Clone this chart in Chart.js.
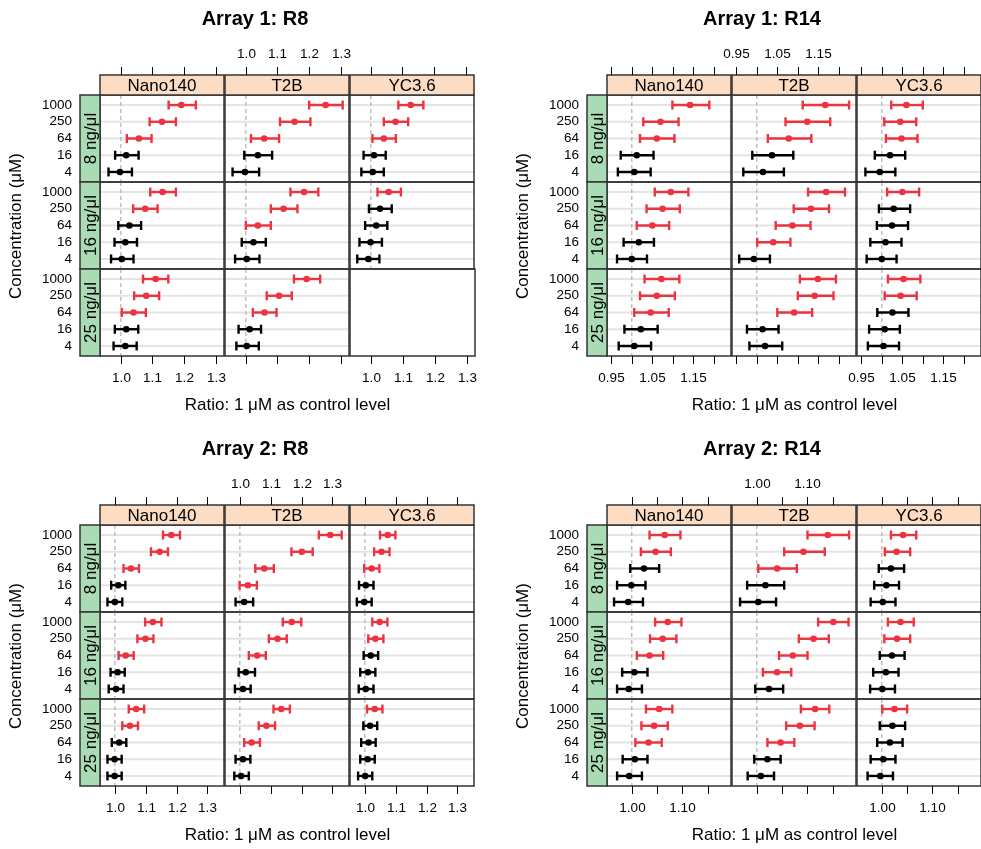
<!DOCTYPE html>
<html>
<head>
<meta charset="utf-8">
<script src="https://cdn.jsdelivr.net/npm/chart.js@4.4.1/dist/chart.umd.min.js"></script>
<style>
    html, body { margin: 0; padding: 0; background: #fff; overflow: hidden; }
    #page { position: relative; width: 981px; height: 849px; overflow: hidden;
            font-family: "Liberation Sans", Arial, sans-serif; color: #000; }
    #page canvas { position: absolute; }
    .lbl { position: absolute; white-space: nowrap; transform: translate(-50%, -50%); line-height: 1; }
    .rot { transform: translate(-50%, -50%) rotate(-90deg); }
</style>
</head>
<body>
<div id="page"></div>
<script>
// Concentrations, top to bottom in every panel
const conc = ['1000', '250', '64', '16', '4'];
const sensors = ['Nano140', 'T2B', 'YC3.6'];
const doses = ['8 ng/μl', '16 ng/μl', '25 ng/μl'];
const titles = ['Array 1: R8', 'Array 1: R14', 'Array 2: R8', 'Array 2: R14'];

// x axis limits, tick values and tick labels per figure
const xLimits = [[0.9341, 1.326], [0.9395, 1.2419], [0.9518, 1.3537], [0.9511, 1.1957]];
const xTicks = [
    [1.0, 1.1, 1.2, 1.3],
    [0.95, 1.00, 1.05, 1.10, 1.15, 1.20],
    [1.0, 1.1, 1.2, 1.3],
    [1.00, 1.05, 1.10, 1.15]
];
const xTickLabels = [
    ['1.0', '1.1', '1.2', '1.3'],
    ['0.95', '', '1.05', '', '1.15', ''],
    ['1.0', '1.1', '1.2', '1.3'],
    ['1.00', '', '1.10', '']
];

// [ratio, lower, upper, significant] for 1000, 250, 64, 16, 4 µM
// rows = dose, columns = sensor
const a1R8 = [
    [
        [[1.191, 1.151, 1.237, 1], [1.130, 1.091, 1.174, 1], [1.057, 1.019, 1.097, 1], [1.017, 0.982, 1.056, 0], [0.997, 0.961, 1.035, 0]],
        [[1.252, 1.200, 1.306, 1], [1.154, 1.108, 1.204, 1], [1.058, 1.016, 1.105, 1], [1.038, 0.995, 1.083, 0], [0.997, 0.958, 1.042, 0]],
        [[1.126, 1.087, 1.166, 1], [1.078, 1.041, 1.118, 1], [1.041, 1.005, 1.079, 1], [1.010, 0.977, 1.047, 0], [1.006, 0.970, 1.041, 0]]
    ],
    [
        [[1.132, 1.093, 1.174, 1], [1.077, 1.039, 1.116, 1], [1.027, 0.992, 1.064, 0], [1.014, 0.980, 1.051, 0], [1.003, 0.969, 1.040, 0]],
        [[1.184, 1.141, 1.229, 1], [1.119, 1.079, 1.163, 1], [1.038, 1.000, 1.079, 1], [1.024, 0.987, 1.063, 0], [1.003, 0.966, 1.043, 0]],
        [[1.056, 1.021, 1.095, 1], [1.029, 0.994, 1.066, 0], [1.017, 0.982, 1.052, 0], [0.999, 0.964, 1.035, 0], [0.992, 0.957, 1.027, 0]]
    ],
    [
        [[1.110, 1.070, 1.150, 1], [1.080, 1.042, 1.121, 1], [1.040, 1.003, 1.079, 1], [1.017, 0.981, 1.055, 0], [1.014, 0.977, 1.050, 0]],
        [[1.192, 1.152, 1.235, 1], [1.105, 1.066, 1.145, 1], [1.059, 1.022, 1.097, 1], [1.012, 0.977, 1.048, 0], [1.003, 0.970, 1.041, 0]],
        null
    ]
];

const a1R14 = [
    [
        [[1.142, 1.099, 1.189, 1], [1.070, 1.028, 1.114, 1], [1.061, 1.020, 1.104, 1], [1.012, 0.973, 1.053, 0], [1.006, 0.966, 1.046, 0]],
        [[1.167, 1.112, 1.225, 1], [1.123, 1.070, 1.179, 1], [1.078, 1.027, 1.133, 1], [1.037, 0.989, 1.089, 0], [1.015, 0.967, 1.066, 0]],
        [[1.060, 1.023, 1.100, 1], [1.045, 1.006, 1.084, 1], [1.048, 1.010, 1.087, 1], [1.020, 0.983, 1.057, 0], [0.995, 0.960, 1.033, 0]]
    ],
    [
        [[1.095, 1.056, 1.138, 1], [1.075, 1.036, 1.117, 1], [1.050, 1.012, 1.091, 1], [1.017, 0.980, 1.054, 0], [1.000, 0.964, 1.037, 0]],
        [[1.169, 1.125, 1.215, 1], [1.132, 1.090, 1.176, 1], [1.087, 1.046, 1.131, 1], [1.040, 1.001, 1.082, 1], [0.993, 0.957, 1.032, 0]],
        [[1.050, 1.013, 1.091, 1], [1.029, 0.993, 1.069, 0], [1.025, 0.988, 1.064, 0], [1.009, 0.972, 1.048, 0], [1.000, 0.963, 1.036, 0]]
    ],
    [
        [[1.072, 1.031, 1.116, 1], [1.061, 1.020, 1.105, 1], [1.046, 1.006, 1.090, 1], [1.022, 0.982, 1.063, 0], [1.006, 0.968, 1.047, 0]],
        [[1.149, 1.105, 1.193, 1], [1.141, 1.100, 1.187, 1], [1.091, 1.050, 1.135, 1], [1.014, 0.976, 1.053, 0], [1.020, 0.982, 1.062, 0]],
        [[1.053, 1.015, 1.094, 1], [1.046, 1.007, 1.085, 1], [1.026, 0.989, 1.065, 0], [1.007, 0.969, 1.044, 0], [1.004, 0.966, 1.042, 0]]
    ]
];

const a2R8 = [
    [
        [[1.183, 1.156, 1.211, 1], [1.145, 1.117, 1.172, 1], [1.052, 1.028, 1.078, 1], [1.011, 0.988, 1.034, 0], [1.000, 0.976, 1.024, 0]],
        [[1.293, 1.256, 1.330, 1], [1.201, 1.167, 1.236, 1], [1.079, 1.050, 1.110, 1], [1.026, 0.999, 1.055, 1], [1.014, 0.986, 1.043, 0]],
        [[1.074, 1.049, 1.099, 1], [1.054, 1.030, 1.080, 1], [1.022, 0.998, 1.047, 1], [1.003, 0.981, 1.028, 0], [0.998, 0.974, 1.022, 0]]
    ],
    [
        [[1.123, 1.098, 1.151, 1], [1.099, 1.073, 1.125, 1], [1.035, 1.012, 1.061, 1], [1.009, 0.986, 1.032, 0], [1.004, 0.980, 1.028, 0]],
        [[1.168, 1.139, 1.199, 1], [1.122, 1.094, 1.152, 1], [1.056, 1.029, 1.084, 1], [1.019, 0.996, 1.049, 0], [1.010, 0.984, 1.035, 0]],
        [[1.048, 1.024, 1.073, 1], [1.034, 1.011, 1.060, 1], [1.019, 0.996, 1.043, 0], [1.010, 0.985, 1.034, 0], [1.003, 0.980, 1.028, 0]]
    ],
    [
        [[1.069, 1.045, 1.095, 1], [1.049, 1.024, 1.075, 1], [1.014, 0.990, 1.037, 0], [0.999, 0.976, 1.022, 0], [0.999, 0.976, 1.022, 0]],
        [[1.134, 1.109, 1.162, 1], [1.086, 1.061, 1.114, 1], [1.038, 1.014, 1.065, 1], [1.010, 0.986, 1.034, 0], [1.004, 0.982, 1.029, 0]],
        [[1.032, 1.007, 1.057, 1], [1.017, 0.995, 1.040, 0], [1.012, 0.988, 1.035, 0], [1.009, 0.985, 1.032, 0], [1.001, 0.978, 1.024, 0]]
    ]
];

const a2R14 = [
    [
        [[1.065, 1.035, 1.096, 1], [1.047, 1.018, 1.077, 1], [1.024, 0.997, 1.054, 0], [0.999, 0.971, 1.027, 0], [0.993, 0.965, 1.022, 0]],
        [[1.140, 1.100, 1.182, 1], [1.092, 1.054, 1.134, 1], [1.040, 1.003, 1.079, 1], [1.017, 0.981, 1.054, 0], [1.003, 0.967, 1.038, 0]],
        [[1.042, 1.018, 1.068, 1], [1.029, 1.006, 1.056, 1], [1.018, 0.994, 1.044, 0], [1.009, 0.985, 1.034, 0], [1.002, 0.978, 1.027, 0]]
    ],
    [
        [[1.071, 1.046, 1.098, 1], [1.061, 1.036, 1.088, 1], [1.035, 1.010, 1.062, 1], [1.005, 0.981, 1.031, 0], [0.994, 0.971, 1.020, 0]],
        [[1.151, 1.121, 1.181, 1], [1.112, 1.083, 1.142, 1], [1.071, 1.044, 1.100, 1], [1.040, 1.012, 1.068, 1], [1.024, 0.997, 1.052, 0]],
        [[1.037, 1.012, 1.063, 1], [1.030, 1.005, 1.056, 1], [1.020, 0.996, 1.045, 0], [1.008, 0.983, 1.033, 0], [1.001, 0.977, 1.026, 0]]
    ],
    [
        [[1.054, 1.028, 1.080, 1], [1.044, 1.019, 1.071, 1], [1.033, 1.007, 1.059, 1], [1.006, 0.982, 1.031, 0], [0.995, 0.971, 1.020, 0]],
        [[1.115, 1.087, 1.143, 1], [1.085, 1.058, 1.114, 1], [1.047, 1.021, 1.074, 1], [1.021, 0.995, 1.047, 0], [1.008, 0.982, 1.034, 0]],
        [[1.025, 1.001, 1.050, 1], [1.021, 0.996, 1.046, 0], [1.016, 0.991, 1.041, 0], [1.003, 0.978, 1.027, 0], [0.997, 0.972, 1.022, 0]]
    ]
];

const figData = [a1R8, a1R14, a2R8, a2R14];

// ---- layout ----
const FONT = '"Liberation Sans", Arial, sans-serif';
const RED = '#EC3340';
const STRIP_TOP = '#FCDCC3';
const STRIP_LEFT = '#A9DBB5';
const FRAME = '#333';
const PANEL_W = 125, PANEL_H = 87, STRIP_H = 20, TICK_LEN = 8;
const PAD = { top: 50, bottom: 34, left: 72, right: 3 };
const figOrigin = [[0, 0], [507, 0], [0, 430], [507, 430]];

const page = document.getElementById('page');

function addLabel(text, x, y, font, rotate) {
    const d = document.createElement('div');
    d.className = 'lbl' + (rotate ? ' rot' : '');
    d.textContent = text;
    d.style.left = x + 'px';
    d.style.top = y + 'px';
    d.style.font = font;
    page.appendChild(d);
}

function line(ctx, x0, y0, x1, y1) {
    ctx.beginPath();
    ctx.moveTo(x0, y0);
    ctx.lineTo(x1, y1);
    ctx.stroke();
}

// draws grid, reference line, error bars, frame, strips and axes of one panel
function panelPlugin(spec) {
    return {
        id: 'latticePanel',
        beforeDatasetsDraw(chart) {
            if (spec.empty) return;
            const { ctx, chartArea: a } = chart;
            const x = chart.scales.x, y = chart.scales.y;
            ctx.save();
            ctx.strokeStyle = '#e4e4e4';
            ctx.lineWidth = 2;
            for (let v = 1; v <= conc.length; v++) {
                const py = y.getPixelForValue(v);
                line(ctx, a.left, py, a.right, py);
            }
            ctx.strokeStyle = '#b0b0b0';
            ctx.lineWidth = 1.2;
            ctx.setLineDash([4, 3]);
            const p1 = x.getPixelForValue(1);
            line(ctx, p1, a.top, p1, a.bottom);
            ctx.setLineDash([]);

            ctx.lineWidth = 2.4;
            chart.data.datasets[0].data.forEach(d => {
                const py = y.getPixelForValue(d.y);
                const xl = x.getPixelForValue(d.lo), xh = x.getPixelForValue(d.hi);
                ctx.strokeStyle = d.sig ? RED : '#000';
                line(ctx, xl, py, xh, py);
                line(ctx, xl, py - 4.5, xl, py + 4.5);
                line(ctx, xh, py - 4.5, xh, py + 4.5);
            });
            ctx.restore();
        },
        afterDraw(chart) {
            const { ctx, chartArea: a } = chart;
            const x = chart.scales.x, y = chart.scales.y;
            const w = a.right - a.left, h = a.bottom - a.top;
            ctx.save();
            ctx.strokeStyle = FRAME;
            ctx.lineWidth = 1.5;
            ctx.strokeRect(a.left, a.top, w, h);

            ctx.fillStyle = '#000';
            ctx.textBaseline = 'middle';
            ctx.textAlign = 'center';

            if (spec.row === 0) {
                const st = a.top - STRIP_H;
                ctx.fillStyle = STRIP_TOP;
                ctx.fillRect(a.left, st, w, STRIP_H);
                ctx.strokeRect(a.left, st, w, STRIP_H);
                ctx.fillStyle = '#000';
                ctx.font = '17px ' + FONT;
                ctx.fillText(sensors[spec.col], a.left + w / 2, st + STRIP_H / 2 + 1);

                ctx.strokeStyle = '#000';
                ctx.lineWidth = 1;
                ctx.font = '13.5px ' + FONT;
                spec.ticks.forEach((v, i) => {
                    const px = Math.round(x.getPixelForValue(v)) + 0.5;
                    line(ctx, px, st - TICK_LEN, px, st);
                    if (spec.col === 1) ctx.fillText(spec.tickLabels[i], px, st - TICK_LEN - 13);
                });
            }

            if (spec.row === 2) {
                ctx.strokeStyle = '#000';
                ctx.lineWidth = 1;
                ctx.font = '13.5px ' + FONT;
                spec.ticks.forEach((v, i) => {
                    const px = Math.round(x.getPixelForValue(v)) + 0.5;
                    line(ctx, px, a.bottom, px, a.bottom + TICK_LEN);
                    if (spec.col !== 1) ctx.fillText(spec.tickLabels[i], px, a.bottom + 22);
                });
            }

            if (spec.col === 0) {
                const sl = a.left - STRIP_H;
                ctx.fillStyle = STRIP_LEFT;
                ctx.fillRect(sl, a.top, STRIP_H, h);
                ctx.strokeStyle = FRAME;
                ctx.lineWidth = 1.5;
                ctx.strokeRect(sl, a.top, STRIP_H, h);

                ctx.fillStyle = '#000';
                ctx.save();
                ctx.translate(sl + STRIP_H / 2 + 1, a.top + h / 2);
                ctx.rotate(-Math.PI / 2);
                ctx.font = '17px ' + FONT;
                ctx.fillText(doses[spec.row], 0, 0);
                ctx.restore();

                ctx.textAlign = 'right';
                ctx.font = '13.5px ' + FONT;
                conc.forEach((c, i) => {
                    ctx.fillText(c, sl - 8, y.getPixelForValue(conc.length - i));
                });
            }
            ctx.restore();
        }
    };
}

function drawPanel(fig, row, col) {
    const [ox, oy] = figOrigin[fig];
    const left = ox + 100 + col * PANEL_W;
    const top = oy + 95 + row * PANEL_H;
    const rows = figData[fig][row][col];

    const canvas = document.createElement('canvas');
    canvas.width = PANEL_W + PAD.left + PAD.right;
    canvas.height = PANEL_H + PAD.top + PAD.bottom;
    canvas.style.left = (left - PAD.left) + 'px';
    canvas.style.top = (top - PAD.top) + 'px';
    page.appendChild(canvas);

    const points = (rows || []).map((r, i) => ({
        x: r[0], y: conc.length - i, lo: r[1], hi: r[2], sig: r[3]
    }));

    new Chart(canvas, {
        type: 'scatter',
        data: {
            datasets: [{
                data: points,
                pointRadius: 3.3,
                pointBorderWidth: 0,
                pointBackgroundColor: points.map(p => p.sig ? RED : '#000')
            }]
        },
        options: {
            responsive: false,
            devicePixelRatio: 1,
            animation: false,
            events: [],
            layout: { padding: PAD },
            plugins: { legend: { display: false }, tooltip: { enabled: false } },
            scales: {
                x: { type: 'linear', display: false, min: xLimits[fig][0], max: xLimits[fig][1] },
                y: { type: 'linear', display: false, min: 0.4, max: 5.6 }
            }
        },
        plugins: [panelPlugin({
            row, col, empty: !rows,
            ticks: xTicks[fig], tickLabels: xTickLabels[fig]
        })]
    });
}

for (let f = 0; f < 4; f++) {
    for (let r = 0; r < 3; r++) {
        for (let c = 0; c < 3; c++) drawPanel(f, r, c);
    }
    const [ox, oy] = figOrigin[f];
    addLabel(titles[f], ox + 255, oy + 18, 'bold 20px ' + FONT);
    addLabel('Ratio: 1 μM as control level', ox + 287.5, oy + 405, '17px ' + FONT);
    addLabel('Concentration (μM)', ox + 16, oy + 225.5, '17px ' + FONT, true);
}
</script>
</body>
</html>
